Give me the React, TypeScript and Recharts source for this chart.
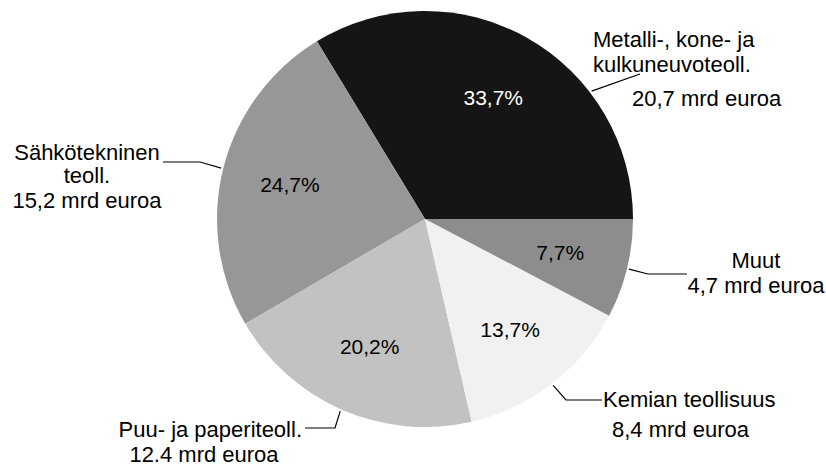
import React from "react";
import { PieChart, Pie, Cell } from "recharts";

const SECTORS = ["Metalli-, kone- ja kulkuneuvoteoll.", "Sähkötekninen teoll.", "Puu- ja paperiteoll.", "Kemian teollisuus", "Muut"];
const SHARES = [33.7, 24.7, 20.2, 13.7, 7.7];
const PCT_LABELS = ["33,7%", "24,7%", "20,2%", "13,7%", "7,7%"];
const COLORS = ["#151515", "#979797", "#c2c2c2", "#f1f1f1", "#8d8d8d"];
const PCT_COLORS = ["#ffffff", "#000000", "#000000", "#000000", "#000000"];

// callout text + leader lines, offsets relative to pie centre
const CALLOUTS = [
  { angle: 37.5, path: [[215, -145]], lines: [
    { t: "Metalli-, kone- ja", x: 168, y: -172, a: "start" },
    { t: "kulkuneuvoteoll.", x: 168, y: -147, a: "start" },
    { t: "20,7 mrd euroa", x: 207, y: -113, a: "start" },
  ] },
  { angle: 166, path: [[-225, -57], [-262, -57]], lines: [
    { t: "Sähkötekninen", x: -338, y: -59, a: "middle" },
    { t: "teoll.", x: -338, y: -36, a: "middle" },
    { t: "15,2 mrd euroa", x: -338, y: -11, a: "middle" },
  ] },
  { angle: 246.2, path: [[-90, 209], [-120, 209]], lines: [
    { t: "Puu- ja paperiteoll.", x: -123, y: 218, a: "end" },
    { t: "12.4 mrd euroa", x: -221, y: 243, a: "middle" },
  ] },
  { angle: 307.6, path: [[141, 181], [177, 181]], lines: [
    { t: "Kemian teollisuus", x: 178, y: 188, a: "start" },
    { t: "8,4 mrd euroa", x: 187, y: 218, a: "start" },
  ] },
  { angle: 346.2, path: [[223, 55], [262, 55]], lines: [
    { t: "Muut", x: 331, y: 49, a: "middle" },
    { t: "4,7 mrd euroa", x: 331, y: 74, a: "middle" },
  ] },
];

const data = SECTORS.map((name, i) => ({ name, value: SHARES[i] }));
const RAD = Math.PI / 180;

const renderLabel = (props: any) => {
  const { cx, cy, midAngle, outerRadius, index } = props;
  const r = outerRadius * 0.67;
  const px = cx + r * Math.cos(-midAngle * RAD);
  const py = cy + r * Math.sin(-midAngle * RAD);
  const c = CALLOUTS[index];
  const sx = cx + (outerRadius + 2) * Math.cos(-c.angle * RAD);
  const sy = cy + (outerRadius + 2) * Math.sin(-c.angle * RAD);
  const pts = [[sx, sy], ...c.path.map(([dx, dy]) => [cx + dx, cy + dy])];
  return (
    <g key={`lbl-${index}`}>
      <text x={px} y={py} textAnchor="middle" dominantBaseline="central" fill={PCT_COLORS[index]} fontSize={21}>
        {PCT_LABELS[index]}
      </text>
      <polyline points={pts.map((p) => p.join(",")).join(" ")} fill="none" stroke="#000" strokeWidth={1.2} />
      {c.lines.map((l, j) => (
        <text key={j} x={cx + l.x} y={cy + l.y} textAnchor={l.a as any} fill="#000" fontSize={22}>
          {l.t}
        </text>
      ))}
    </g>
  );
};

export default function App() {
  return (
    <div style={{ position: "absolute", left: 0, top: 0, width: 826, height: 466, background: "#fff", fontFamily: "'Liberation Sans', Arial, sans-serif", overflow: "hidden" }}>
      <PieChart width={826} height={466} margin={{ top: 0, right: 0, bottom: 0, left: 0 }}>
        <Pie
          data={data}
          dataKey="value"
          nameKey="name"
          cx={425}
          cy={219}
          outerRadius={208}
          startAngle={0}
          endAngle={360}
          stroke="none"
          label={renderLabel}
          labelLine={false}
          isAnimationActive={false}
        >
          {data.map((_, i) => (
            <Cell key={i} fill={COLORS[i]} />
          ))}
        </Pie>
      </PieChart>
    </div>
  );
}
